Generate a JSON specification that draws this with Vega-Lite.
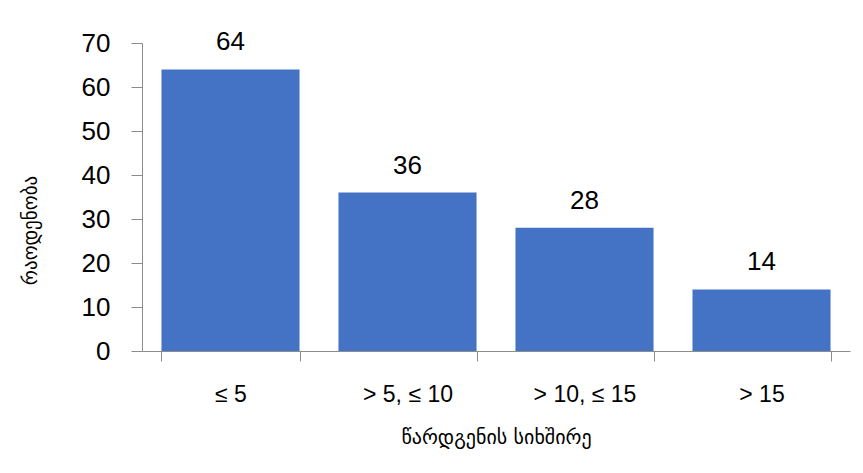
{
  "$schema": "https://vega.github.io/schema/vega-lite/v6.json",
  "autosize": {"type": "none"},
  "width": 708,
  "height": 308,
  "padding": {"left": 142, "top": 43, "right": 13, "bottom": 122},
  "background": "white",
  "config": {"view": {"stroke": null}},
  "data": {"values": [
    {"category": "≤ 5", "count": 64},
    {"category": "> 5, ≤ 10", "count": 36},
    {"category": "> 10, ≤ 15", "count": 28},
    {"category": "> 15", "count": 14}
  ]},
  "encoding": {
    "x": {
      "field": "category", "type": "nominal", "sort": null,
      "scale": {"paddingInner": 0.22, "paddingOuter": 0.11},
      "axis": {
        "title": "წარდგენის სიხშირე",
        "titleFont": "DejaVu Sans", "titleFontSize": 20, "titleFontWeight": "normal", "titleColor": "black",
        "titleY": 86, "titleBaseline": "middle",
        "labelAngle": 0, "labelFont": "Liberation Sans", "labelFontSize": 23, "labelColor": "black",
        "labelPadding": 33, "labelBaseline": "middle",
        "tickBand": "extent", "tickSize": 10, "tickColor": "#8c8c8c", "domainColor": "#8c8c8c",
        "grid": false
      }
    },
    "y": {
      "field": "count", "type": "quantitative",
      "scale": {"domain": [0, 70]},
      "axis": {
        "title": "რაოდენობა",
        "titleFont": "DejaVu Sans", "titleFontSize": 19, "titleFontWeight": "normal", "titleColor": "black",
        "titleX": -112, "titleY": 187, "titleAlign": "center", "titleBaseline": "middle",
        "values": [0, 10, 20, 30, 40, 50, 60, 70],
        "labelFont": "Liberation Sans", "labelFontSize": 26, "labelColor": "black",
        "labelPadding": 21, "tickSize": 11, "tickColor": "#8c8c8c", "domainColor": "#8c8c8c",
        "grid": false
      }
    }
  },
  "layer": [
    {"mark": {"type": "bar", "color": "#4472C4"}},
    {
      "mark": {"type": "text", "baseline": "alphabetic", "dy": -19, "font": "Liberation Sans", "fontSize": 26, "color": "black"},
      "encoding": {"text": {"field": "count", "type": "quantitative"}}
    }
  ]
}
